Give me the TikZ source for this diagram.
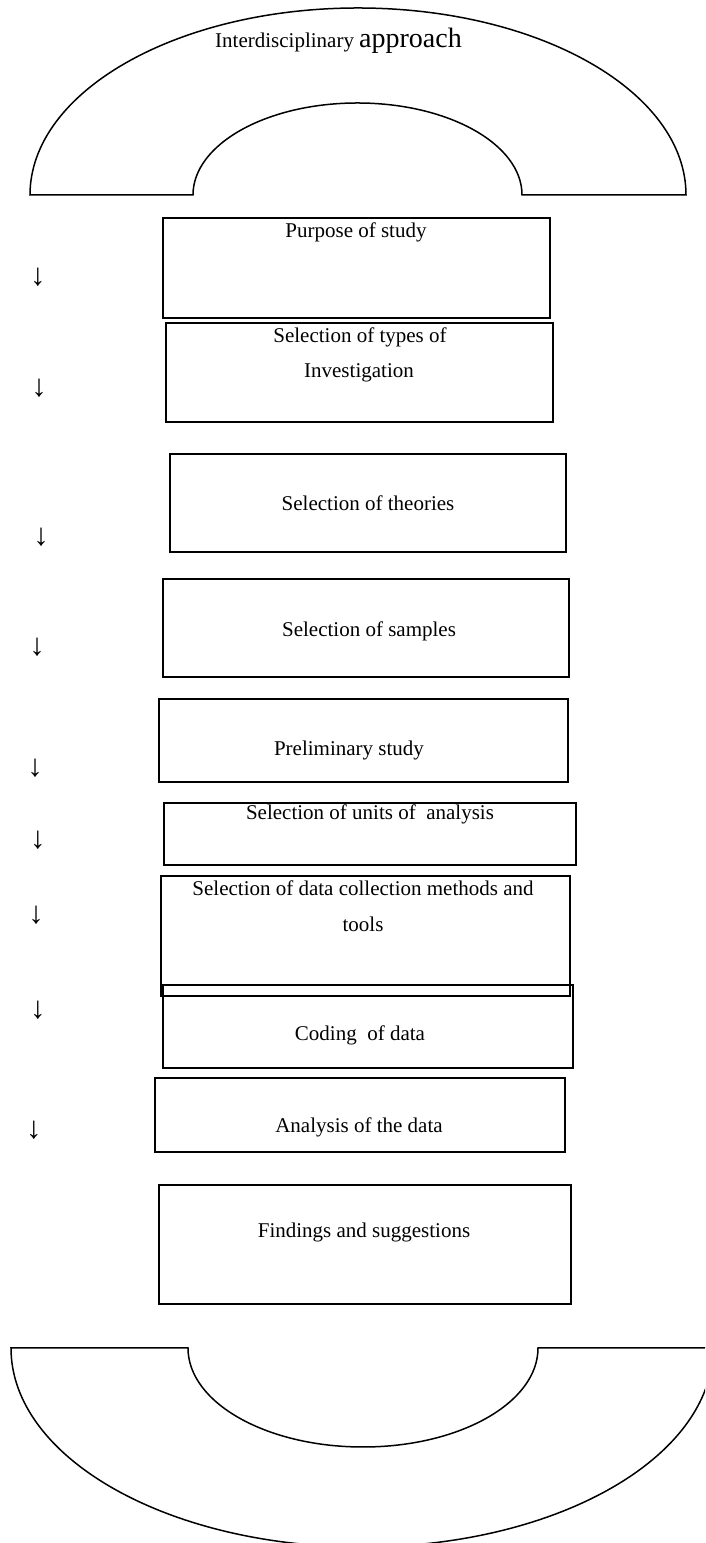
\documentclass[tikz,border=0pt]{standalone}
\usepackage{fontspec}
\setmainfont{Liberation Serif}
\begin{document}
\begin{tikzpicture}[x=1pt,y=1pt,
  stepbox/.style={draw=black,line width=2.1pt,inner sep=0pt,outer sep=0pt},
  label/.style={anchor=base,inner sep=0pt,font=\fontsize{21}{25}\selectfont},
  downarrow/.style={inner sep=0pt,font=\fontsize{31}{35}\selectfont},
  archline/.style={draw=black,line width=1.5pt,line join=miter}]
\useasboundingbox (0,0) rectangle (705,1543);
\clip (0,0) rectangle (705,1543);

% upper half ring
\draw[archline] (30,1348) -- (193,1348)
  arc[start angle=180,end angle=0,x radius=164.5,y radius=92]
  -- (686,1348)
  arc[start angle=0,end angle=180,x radius=328,y radius=187] -- cycle;
\node[anchor=base west,inner sep=0pt,font=\fontsize{21}{25}\selectfont] (title) at (215,1495)
  {Interdisciplinary {\fontsize{28}{32}\selectfont approach}};

% lower half ring
\draw[archline] (11,195) -- (188,195)
  arc[start angle=180,end angle=360,x radius=175,y radius=99]
  -- (713,195)
  arc[start angle=0,end angle=-180,x radius=351,y radius=199] -- cycle;

% step boxes
\node[stepbox,minimum width=387pt,minimum height=100pt] (b1) at (356.5,1275) {};
\node[stepbox,minimum width=387pt,minimum height=99pt] (b2) at (359.5,1170.5) {};
\node[stepbox,minimum width=396pt,minimum height=98pt] (b3) at (368,1040) {};
\node[stepbox,minimum width=406pt,minimum height=98pt] (b4) at (366,915) {};
\node[stepbox,minimum width=409pt,minimum height=83pt] (b5) at (363.5,802.5) {};
\node[stepbox,minimum width=412pt,minimum height=62pt] (b6) at (370,709) {};
\node[stepbox,minimum width=409pt,minimum height=120pt] (b7) at (365.5,607) {};
\node[stepbox,minimum width=410pt,minimum height=83pt] (b8) at (368,516.5) {};
\node[stepbox,minimum width=410pt,minimum height=74pt] (b9) at (360,428) {};
\node[stepbox,minimum width=412pt,minimum height=119pt] (b10) at (365,298.5) {};

% box texts
\node[label] (t1) at (356,1305) {Purpose of study};
\node[label] (t2a) at (360,1200) {Selection of types of};
\node[label] (t2b) at (359,1165) {Investigation};
\node[label] (t3) at (368,1032) {Selection of theories};
\node[label] (t4) at (369,906) {Selection of samples};
\node[label] (t5) at (349,787) {Preliminary study};
\node[label] (t6) at (370,723) {Selection of units of\ \ analysis};
\node[label] (t7a) at (363,647) {Selection of data collection methods and};
\node[label] (t7b) at (363,611) {tools};
\node[label] (t8) at (360,502) {Coding\ \ of data};
\node[label] (t9) at (359,410) {Analysis of the data};
\node[label] (t10) at (364,305) {Findings and suggestions};

% arrows down the left margin
\node[downarrow] (a1) at (38,1266) {↓};
\node[downarrow] (a2) at (39,1155) {↓};
\node[downarrow] (a3) at (41,1006) {↓};
\node[downarrow] (a4) at (37,896) {↓};
\node[downarrow] (a5) at (35,775) {↓};
\node[downarrow] (a6) at (38,703) {↓};
\node[downarrow] (a7) at (36,628) {↓};
\node[downarrow] (a8) at (38,533) {↓};
\node[downarrow] (a9) at (34,413) {↓};
\end{tikzpicture}
\end{document}
